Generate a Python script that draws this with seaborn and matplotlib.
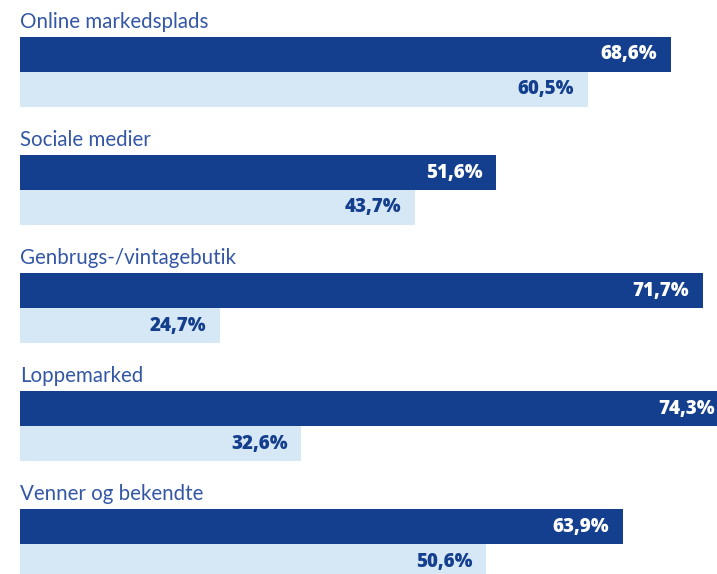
import pandas as pd
import matplotlib.pyplot as plt
import seaborn as sns

# Values
categories = ['Online markedsplads', 'Sociale medier', 'Genbrugs-/vintagebutik',
              'Loppemarked', 'Venner og bekendte']
serie_1 = [68.6, 51.6, 71.7, 74.3, 63.9]
serie_2 = [60.5, 43.7, 24.7, 32.6, 50.6]
series = ['Serie 1', 'Serie 2']

dark_blue = '#143f8e'
light_blue = '#d6e7f5'
title_color = '#3357a5'

data = pd.DataFrame({
    'Kategori': categories * 2,
    'Serie': [series[0]] * len(categories) + [series[1]] * len(categories),
    'Andel': serie_1 + serie_2,
})

sns.set_style('white')
plt.rcParams['font.family'] = ['Lato', 'DejaVu Sans']

fig = plt.figure(figsize=(7.17, 5.74), dpi=100)
ax = fig.add_axes([20 / 717, 0, 697 / 717, 1])

bar_width = 0.593
sns.barplot(data=data, x='Andel', y='Kategori', hue='Serie', orient='h',
            palette=[dark_blue, light_blue], width=bar_width, saturation=1,
            linewidth=0, legend=False, ax=ax)

# the reference is a crop of a wider chart: axis starts above zero
ax.set_xlim(5.17, 73.1)
ax.set_ylim(4.254, -0.61)

# value labels inside the bar ends
for container, color in zip(ax.containers, ['white', dark_blue]):
    for bar in container:
        val = bar.get_width()
        ax.annotate(f'{val:.1f}%'.replace('.', ','),
                    (val, bar.get_y() + bar.get_height() / 2),
                    xytext=(-14, 0), textcoords='offset pixels',
                    ha='right', va='center', fontsize=13.5, fontweight=800,
                    family=['Open Sans', 'DejaVu Sans'],
                    color=color, annotation_clip=False)

# category titles above each pair of bars
for i, cat in enumerate(categories):
    ax.annotate(cat, (5.17, i - bar_width / 2), xytext=(0, 9),
                textcoords='offset pixels', ha='left', va='baseline',
                fontsize=14.8, color=title_color, annotation_clip=False)

ax.set_xlabel('')
ax.set_ylabel('')
ax.set_xticks([])
ax.set_yticks([])
sns.despine(ax=ax, left=True, bottom=True)

fig.savefig('out.png', dpi=100)
